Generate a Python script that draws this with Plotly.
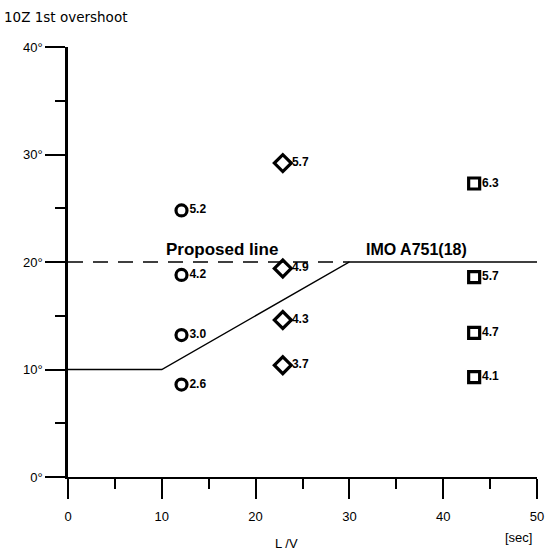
import plotly.graph_objects as go

# Data
circle_x = [12.1, 12.1, 12.1, 12.1]
circle_y = [24.8, 18.8, 13.2, 8.6]
circle_lbl = ["5.2", "4.2", "3.0", "2.6"]

diamond_x = [22.9, 22.9, 22.9, 22.9]
diamond_y = [29.2, 19.4, 14.6, 10.4]
diamond_lbl = ["5.7", "4.9", "4.3", "3.7"]

square_x = [43.3, 43.3, 43.3, 43.3]
square_y = [27.3, 18.6, 13.4, 9.3]
square_lbl = ["6.3", "5.7", "4.7", "4.1"]

imo_x = [0, 10, 30, 50]
imo_y = [10, 10, 20, 20]

proposed_x = [0, 30]
proposed_y = [20, 20]

x_ticks = [0, 10, 20, 30, 40, 50]
y_ticks = [0, 10, 20, 30, 40]
y_tick_text = ["0°", "10°", "20°", "30°", "40°"]

FONT = "Liberation Sans, Arial, sans-serif"

fig = go.Figure()
fig.add_trace(go.Scatter(x=imo_x, y=imo_y, mode="lines",
                         line=dict(color="black", width=1.4), hoverinfo="skip"))
fig.add_trace(go.Scatter(x=proposed_x, y=proposed_y, mode="lines",
                         line=dict(color="black", width=1.6, dash="15px,10px"), hoverinfo="skip"))

for xs, ys, lbl, sym, size in [
    (circle_x, circle_y, circle_lbl, "circle-open", 11),
    (diamond_x, diamond_y, diamond_lbl, "diamond-open", 13),
    (square_x, square_y, square_lbl, "square-open", 11),
]:
    fig.add_trace(go.Scatter(
        x=xs, y=ys, mode="markers+text", text=[f"<b>{t}</b>" for t in lbl],
        textposition="middle right",
        textfont=dict(family=FONT, size=12, color="black"),
        marker=dict(symbol=sym, size=size, color="black", line=dict(width=3.2, color="black")),
    ))

fig.add_annotation(x=16.4, y=21.2, xref="x", yref="y", text="<b>Proposed line</b>",
                   showarrow=False, font=dict(family=FONT, size=17, color="black"))
fig.add_annotation(x=37.1, y=21.2, xref="x", yref="y", text="<b>IMO A751(18)</b>",
                   showarrow=False, font=dict(family=FONT, size=16, color="black"))
fig.add_annotation(x=0, y=1, xref="paper", yref="paper", xshift=-66, yshift=30,
                   xanchor="left", yanchor="middle", text="10Z 1st overshoot",
                   showarrow=False, font=dict(family="DejaVu Sans, sans-serif", size=13.5, color="black"))

fig.add_annotation(x=23.3, y=0, xref="x", yref="paper", yshift=-76, text="L /V",
                   showarrow=False, font=dict(family=FONT, size=13, color="black"))
fig.add_annotation(x=48.0, y=0, xref="x", yref="paper", yshift=-70, text="[sec]",
                   showarrow=False, font=dict(family=FONT, size=13, color="black"))

fig.update_layout(
    width=545, height=552,
    margin=dict(l=68, r=8, t=47, b=75),
    paper_bgcolor="white", plot_bgcolor="white",
    showlegend=False,
    font=dict(family=FONT, color="black"),
    xaxis=dict(range=[0, 50], tickvals=x_ticks, showgrid=False, zeroline=False,
               automargin=False,
               showline=True, linecolor="black", linewidth=1.8,
               ticks="outside", ticklen=20, tickwidth=2, tickcolor="black",
               ticklabelstandoff=6,
               tickfont=dict(family=FONT, size=13, color="black"),
               minor=dict(dtick=5, tick0=0, ticks="outside", ticklen=10, tickwidth=2,
                          tickcolor="black", showgrid=False)),
    yaxis=dict(range=[0, 40], tickvals=y_ticks, ticktext=y_tick_text, showgrid=False,
               zeroline=False, showline=True, linecolor="black", linewidth=2.5,
               automargin=False,
               ticks="outside", ticklen=20, tickwidth=2, tickcolor="black",
               tickfont=dict(family=FONT, size=13, color="black"),
               minor=dict(dtick=5, tick0=0, ticks="outside", ticklen=10, tickwidth=2,
                          tickcolor="black", showgrid=False)),
)

fig.write_html("out.html", config={"displayModeBar": False},
               post_script="document.body.style.margin='0';")
